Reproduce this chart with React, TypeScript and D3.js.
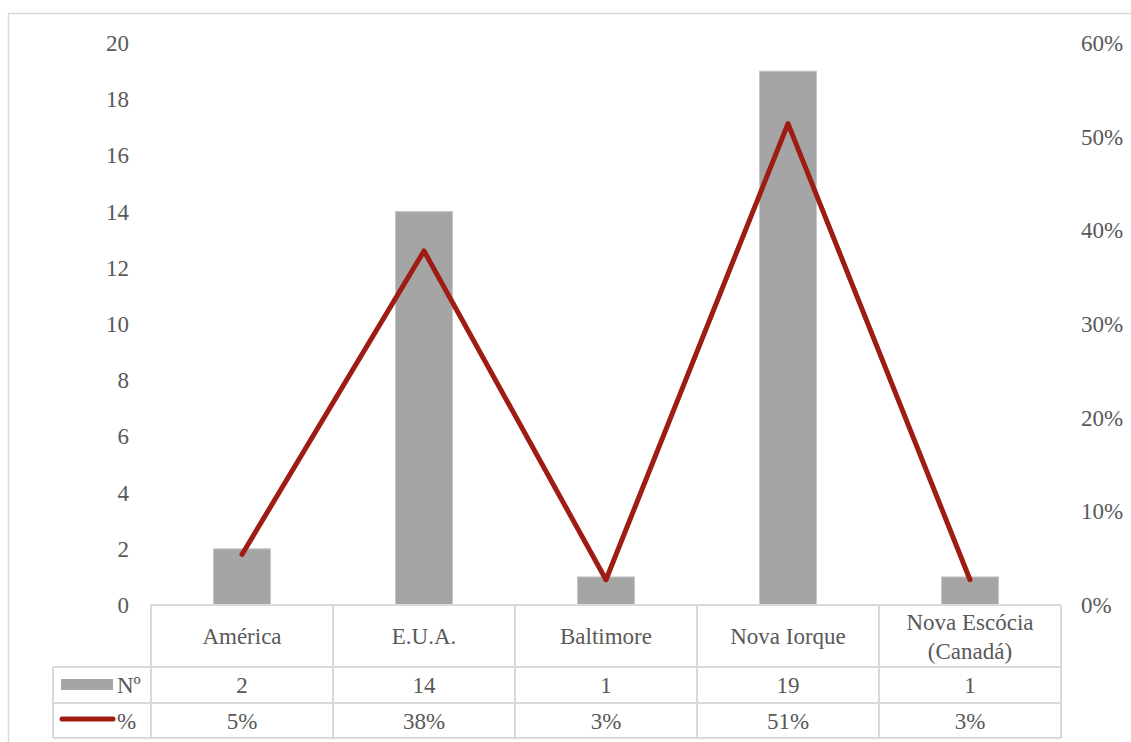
import React from "react";
import * as d3 from "d3";

const categories = ["América", "E.U.A.", "Baltimore", "Nova Iorque", "Nova Escócia\n(Canadá)"];
const counts = [2, 14, 1, 19, 1];
const percents = [5.4, 37.8, 2.7, 51.4, 2.7];
const leftTicks = [0, 2, 4, 6, 8, 10, 12, 14, 16, 18, 20];
const rightTicks = [0, 10, 20, 30, 40, 50, 60];
const seriesNames = ["Nº", "%"];

const W = 1131;
const H = 742;
const FONT = "Liberation Serif";
const TXT = "#595959";
const GRID = "#d9d9d9";
const BAR = "#a5a5a5";
const LINE = "#9e1c14";

export default function App() {
  const x0 = 151, x1 = 1061;
  const yTop = 43, yBot = 605;
  const cols = d3.scaleBand<string>().domain(categories).range([x0, x1]).padding(0);
  const bars = d3.scaleBand<string>().domain(categories).range([x0, x1]).paddingInner(0.687).paddingOuter(0.3435);
  const yL = d3.scaleLinear().domain([0, 20]).range([yBot, yTop]);
  const yR = d3.scaleLinear().domain([0, 60]).range([yBot, yTop]);
  const line = d3.line<number>()
    .x((_, i) => (cols(categories[i]) as number) + cols.bandwidth() / 2)
    .y((d) => yR(d));

  const catRowBot = 667, row1Bot = 703, row2Bot = 738;
  const tableLeft = 53;
  const fs = 23;
  const ts: React.CSSProperties = { fontFamily: FONT, fontSize: fs, fill: TXT };

  return (
    <svg width={W} height={H} style={{ position: "absolute", left: 0, top: 0, fontFamily: FONT }}>
      <rect x={8.5} y={13.5} width={W + 10} height={H + 10} fill="#fff" stroke={GRID} strokeWidth={1.5} />
      {counts.map((v, i) => (
        <rect key={i} x={bars(categories[i])} y={yL(v)} width={bars.bandwidth()} height={yBot - yL(v)}
          fill={BAR} stroke="#c8c8c8" strokeWidth={1} />
      ))}
      {leftTicks.map((t) => (
        <text key={t} x={129} y={yL(t)} dy="0.35em" textAnchor="end" style={ts}>{t}</text>
      ))}
      {rightTicks.map((t) => (
        <text key={t} x={1081} y={yR(t)} dy="0.35em" textAnchor="start" style={ts}>{t + "%"}</text>
      ))}
      <g stroke={GRID} strokeWidth={2} fill="none">
        <line x1={x0} x2={x1} y1={yBot} y2={yBot} />
        <line x1={tableLeft} x2={x1} y1={catRowBot} y2={catRowBot} />
        <line x1={tableLeft} x2={x1} y1={row1Bot} y2={row1Bot} />
        <line x1={tableLeft} x2={x1} y1={row2Bot} y2={row2Bot} />
        <line x1={tableLeft} x2={tableLeft} y1={catRowBot} y2={row2Bot} />
        {categories.map((c, i) => (
          <line key={i} x1={cols(c)} x2={cols(c)} y1={yBot} y2={row2Bot} />
        ))}
        <line x1={x1} x2={x1} y1={yBot} y2={row2Bot} />
      </g>
      {categories.map((c, i) => {
        const lines = c.split("\n");
        const cx = (cols(c) as number) + cols.bandwidth() / 2;
        const cy = (yBot + catRowBot) / 2;
        return (
          <text key={i} x={cx} textAnchor="middle" style={ts}>
            {lines.map((l, j) => (
              <tspan key={j} x={cx} y={cy + (j - (lines.length - 1) / 2) * 29} dy="0.35em">{l}</tspan>
            ))}
          </text>
        );
      })}
      {counts.map((v, i) => (
        <text key={i} x={(cols(categories[i]) as number) + cols.bandwidth() / 2} y={(catRowBot + row1Bot) / 2}
          dy="0.35em" textAnchor="middle" style={ts}>{v}</text>
      ))}
      {percents.map((v, i) => (
        <text key={i} x={(cols(categories[i]) as number) + cols.bandwidth() / 2} y={(row1Bot + row2Bot) / 2}
          dy="0.35em" textAnchor="middle" style={ts}>{Math.round(v) + "%"}</text>
      ))}
      <rect x={61} y={679} width={52} height={11} fill={BAR} />
      <text x={117} y={(catRowBot + row1Bot) / 2} dy="0.35em" style={ts}>{seriesNames[0]}</text>
      <line x1={62} x2={113} y1={719} y2={719} stroke={LINE} strokeWidth={5} strokeLinecap="round" />
      <text x={117} y={(row1Bot + row2Bot) / 2} dy="0.35em" style={ts}>{seriesNames[1]}</text>
      <path d={line(percents) || ""} fill="none" stroke={LINE} strokeWidth={5} strokeLinecap="round" strokeLinejoin="round" />
    </svg>
  );
}
